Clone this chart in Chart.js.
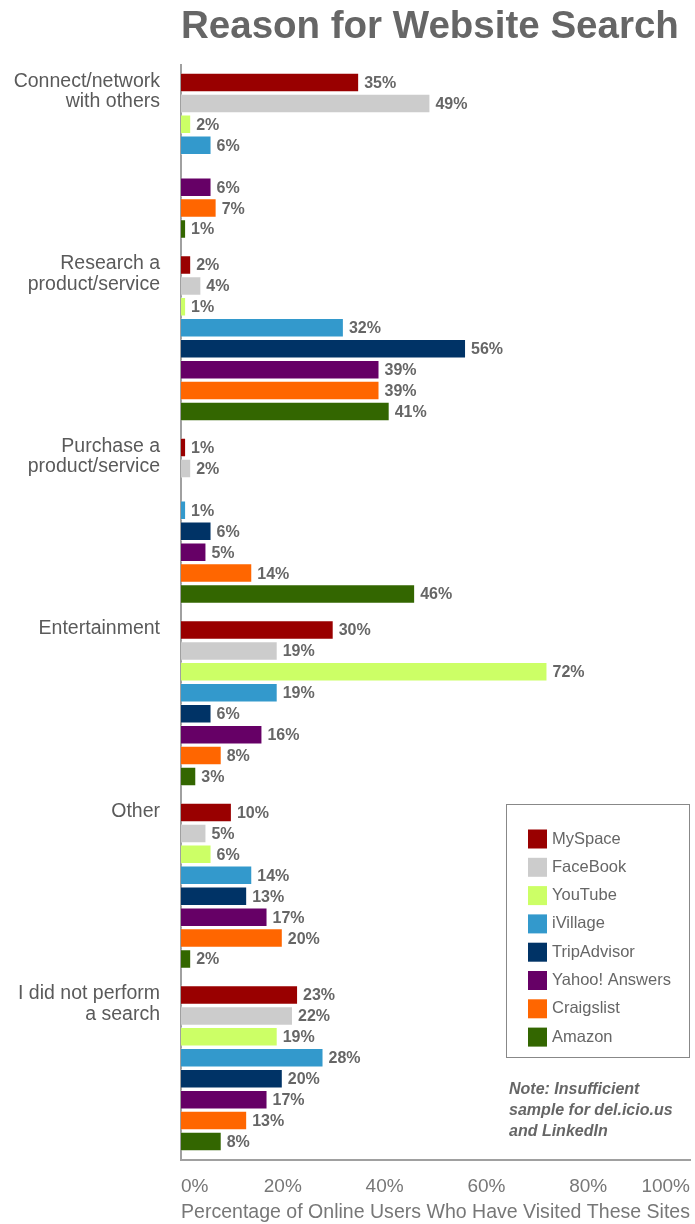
<!DOCTYPE html>
<html>
<head>
<meta charset="utf-8">
<script src="https://cdn.jsdelivr.net/npm/chart.js@4"></script>
<style>
  html, body { margin: 0; padding: 0; background: #fff; }
  #wrap { width: 695px; height: 1224px; }
</style>
</head>
<body>
<div id="wrap"><canvas id="chart"></canvas></div>
<script>
const categories = [
  ['Connect/network', 'with others'],
  ['Research a', 'product/service'],
  ['Purchase a', 'product/service'],
  ['Entertainment'],
  ['Other'],
  ['I did not perform', 'a search'],
];
const sites = ['MySpace', 'FaceBook', 'YouTube', 'iVillage', 'TripAdvisor', 'Yahoo! Answers', 'Craigslist', 'Amazon'];
const siteColors = ['#990000', '#cccccc', '#ccff66', '#3399cc', '#003366', '#660066', '#ff6600', '#336600'];

const mySpace      = [35,  2,    1, 30, 10, 23];
const faceBook     = [49,  4,    2, 19,  5, 22];
const youTube      = [ 2,  1, null, 72,  6, 19];
const iVillage     = [ 6, 32,    1, 19, 14, 28];
const tripAdvisor  = [null, 56,  6,  6, 13, 20];
const yahooAnswers = [ 6, 39,    5, 16, 17, 17];
const craigslist   = [ 7, 39,   14,  8, 20, 13];
const amazon       = [ 1, 41,   46,  3,  2,  8];

const xTicks = [0, 20, 40, 60, 80, 100];
const noteLines = ['Note: Insufficient', 'sample for del.icio.us', 'and LinkedIn'];

const FONT = "'Liberation Sans', Arial, sans-serif";
const CAT_PCT = 0.918;
const BAR_PCT = 0.93;

const seriesValues = [mySpace, faceBook, youTube, iVillage, tripAdvisor, yahooAnswers, craigslist, amazon];

// category names sit beside the first bar of each group
const categoryLabels = {
  id: 'categoryLabels',
  afterDraw(chart) {
    const ctx = chart.ctx;
    const y = chart.scales.y;
    const band = (chart.chartArea.bottom - chart.chartArea.top) / categories.length;
    const pitch = band * CAT_PCT / sites.length;
    ctx.save();
    ctx.font = '19.5px ' + FONT;
    ctx.fillStyle = '#5a5a5a';
    ctx.textAlign = 'right';
    ctx.textBaseline = 'middle';
    categories.forEach((lines, i) => {
      const top = y.getPixelForValue(i) - 3.5 * pitch - 1;
      lines.forEach((line, j) => ctx.fillText(line, 160, top + j * 20.5));
    });
    ctx.restore();
  }
};

const valueLabels = {
  id: 'valueLabels',
  afterDatasetsDraw(chart) {
    const ctx = chart.ctx;
    ctx.save();
    ctx.font = 'bold 16px ' + FONT;
    ctx.fillStyle = '#666666';
    ctx.textAlign = 'left';
    ctx.textBaseline = 'middle';
    chart.data.datasets.forEach((ds, di) => {
      chart.getDatasetMeta(di).data.forEach((bar, i) => {
        const v = ds.data[i];
        if (v == null) return;
        ctx.fillText(v + '%', bar.x + 5, bar.y + 1);
      });
    });
    ctx.restore();
  }
};

// boxed legend inside the plot, plus the note under it
const boxLegend = {
  id: 'boxLegend',
  afterDraw(chart) {
    const ctx = chart.ctx;
    const area = chart.chartArea;
    const x = area.right - 184, y = 804, w = 184, h = 254;
    ctx.save();
    ctx.fillStyle = '#fff';
    ctx.fillRect(x, y, w, h);
    ctx.strokeStyle = '#888';
    ctx.lineWidth = 1;
    ctx.strokeRect(x + 0.5, y + 0.5, w - 1, h - 1);
    ctx.font = '16.5px ' + FONT;
    ctx.textBaseline = 'middle';
    ctx.textAlign = 'left';
    sites.forEach((name, i) => {
      const cy = y + 35 + i * 28.3;
      ctx.fillStyle = siteColors[i];
      ctx.fillRect(x + 22, cy - 9.5, 19, 19);
      ctx.fillStyle = '#666';
      ctx.fillText(name, x + 46, cy);
    });
    ctx.font = 'italic bold 16px ' + FONT;
    ctx.fillStyle = '#666';
    noteLines.forEach((line, i) => ctx.fillText(line, x + 3, 1090 + i * 21));
    ctx.restore();
  }
};

new Chart(document.getElementById('chart'), {
  type: 'bar',
  data: {
    labels: categories,
    datasets: sites.map((name, i) => ({
      label: name,
      data: seriesValues[i],
      backgroundColor: siteColors[i],
      borderColor: 'rgba(255,255,255,0.35)',
      borderWidth: 1,
      categoryPercentage: CAT_PCT,
      barPercentage: BAR_PCT,
    })),
  },
  options: {
    indexAxis: 'y',
    responsive: true,
    maintainAspectRatio: false,
    devicePixelRatio: 1,
    animation: false,
    layout: { padding: { left: 0, right: 5, top: 0, bottom: 0 } },
    plugins: {
      legend: { display: false },
      tooltip: { enabled: false },
      title: {
        display: true,
        text: 'Reason for Website Search',
        align: 'start',
        fullSize: false,
        color: '#666666',
        font: { family: FONT, size: 38.5, weight: 'bold', lineHeight: 1.2 },
        padding: { top: 4, bottom: 14.3 },
      },
    },
    scales: {
      x: {
        min: 0,
        max: 100,
        afterBuildTicks: (s) => { s.ticks = xTicks.map(v => ({ value: v })); },
        afterFit: (s) => { s.height = 64.5; s.paddingLeft = 0; s.paddingRight = 0; },
        grid: { display: false, drawTicks: false },
        border: { display: true, color: '#a0a0a0', width: 2 },
        ticks: {
          align: 'inner',
          padding: 16,
          color: '#777777',
          font: { family: FONT, size: 19 },
          callback: (v) => v + '%',
        },
        title: {
          display: true,
          text: 'Percentage of Online Users Who Have Visited These Sites',
          color: '#777777',
          font: { family: FONT, size: 19.7 },
          padding: { top: 0, bottom: 0 },
        },
      },
      y: {
        afterFit: (s) => { s.width = 181; },
        grid: { display: false, drawTicks: false },
        border: { display: true, color: '#a0a0a0', width: 2 },
        ticks: { display: false },
      },
    },
  },
  plugins: [categoryLabels, valueLabels, boxLegend],
});
</script>
</body>
</html>
